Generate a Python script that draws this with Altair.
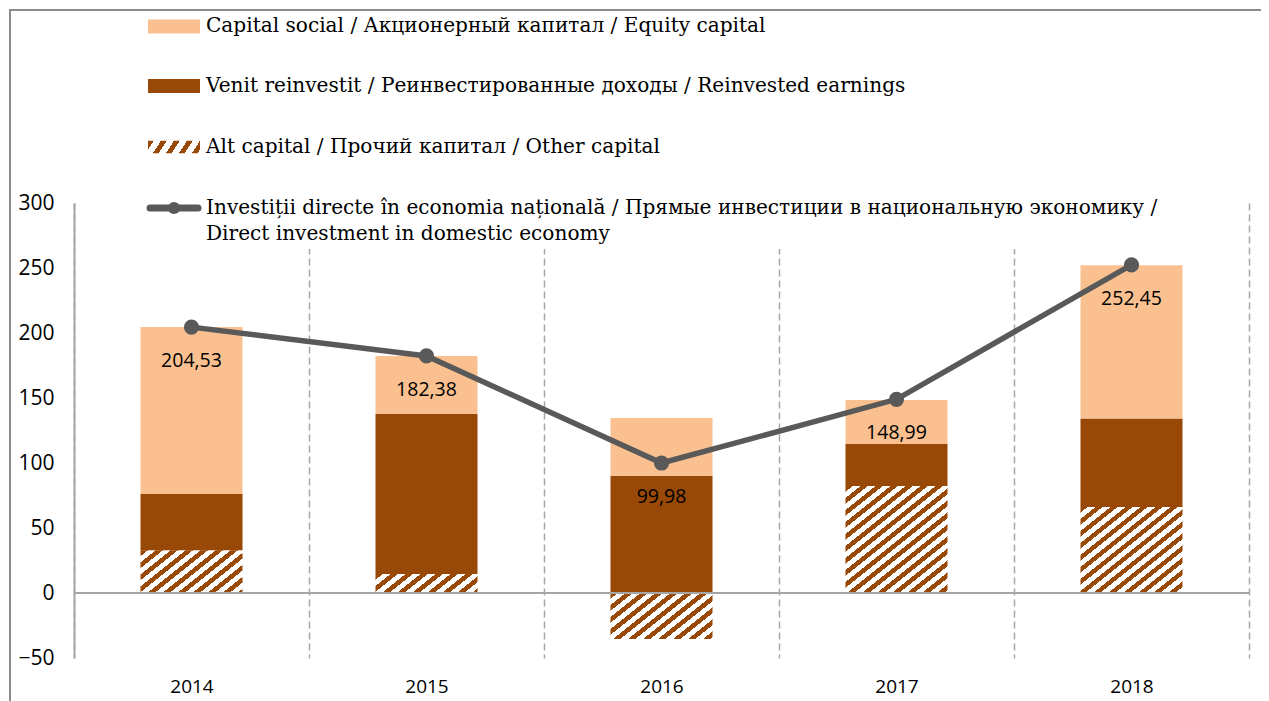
import math
import altair as alt

# ---------------- data ----------------
years = ["2014", "2015", "2016", "2017", "2018"]
equity = [128.4, 44.5, 44.4, 33.9, 117.9]        # Capital social / Equity capital
reinvested = [43.4, 123.3, 90.2, 32.3, 68.1]     # Venit reinvestit / Reinvested earnings
other = [32.8, 14.6, -35.4, 82.3, 66.2]          # Alt capital / Other capital
total = [204.53, 182.38, 99.98, 148.99, 252.45]  # Direct investment in domestic economy

legend_labels = [
    "Capital social / Акционерный капитал / Equity capital",
    "Venit reinvestit / Реинвестированные доходы / Reinvested earnings",
    "Alt capital / Прочий капитал / Other capital",
    "Investiții directe în economia națională / Прямые инвестиции в национальную экономику /",
    "Direct investment in domestic economy",
]
y_ticks = [-50, 0, 50, 100, 150, 200, 250, 300]

# ---------------- style ----------------
C_EQ = "#FAC090"
C_RE = "#984807"
C_LINE = "#595959"
C_GRID = "#A6A6A6"
W, H = 1175, 455
Y_DOM = [-50, 300]
PX = H / (Y_DOM[1] - Y_DOM[0])
BAR_W = 102
SANS = "Open Sans"
SERIF = "DejaVu Serif"


def hatch(w, h, ph, pv, frac=0.48, col=C_RE, bg="#FFFFFF"):
    a_ = w / ph
    b_ = h / pv
    s = a_ + b_
    k = s / (a_ * a_ + b_ * b_)
    stops = []
    i = 0
    while i / s < 1:
        o1 = i / s
        o2 = min((i + frac) / s, 1)
        o3 = min((i + 1) / s, 1)
        stops += [
            {"offset": o1, "color": col},
            {"offset": o2, "color": col},
            {"offset": o2, "color": bg},
            {"offset": o3, "color": bg},
        ]
        i += 1
    return {"gradient": "linear", "x1": 0, "y1": 0, "x2": k * a_, "y2": k * b_, "stops": stops}


bar_records = []
for i, yr in enumerate(years):
    bar_records.append({"year": yr, "series": "other", "ord": 0, "value": other[i],
                        "fillv": hatch(BAR_W, abs(other[i]) * PX, 15, 12)})
    bar_records.append({"year": yr, "series": "reinvested", "ord": 1, "value": reinvested[i], "fillv": C_RE})
    bar_records.append({"year": yr, "series": "equity", "ord": 2, "value": equity[i], "fillv": C_EQ})

line_records = [{"year": yr, "total": t, "label": f"{t:.2f}".replace(".", ",")} for yr, t in zip(years, total)]

x_enc = alt.X("year:N", sort=years, scale=alt.Scale(paddingInner=0, paddingOuter=0),
              axis=alt.Axis(title=None, labelAngle=0, domain=False, ticks=False, grid=True,
                            gridDash=[7, 4], gridColor=C_GRID, gridWidth=1.5, tickBand="extent",
                            labelFont=SANS, labelFontSize=19, labelColor="#000000", labelPadding=19))
y_enc = alt.Y("value:Q", stack="zero", scale=alt.Scale(domain=Y_DOM, nice=False, zero=False),
              axis=alt.Axis(title=None, values=y_ticks, domainColor=C_GRID, domainWidth=2, ticks=False,
                            grid=False, labelFont=SANS, labelFontSize=21, labelColor="#000000",
                            labelPadding=20))

dummy = alt.Data(values=[{"k": 1}])

frame_top = alt.Chart(dummy).mark_rule(color="#8C8C8C", strokeWidth=2).encode(
    x=alt.value(-65), x2=alt.value(1300), y=alt.value(-193))
frame_left = alt.Chart(dummy).mark_rule(color="#8C8C8C", strokeWidth=2).encode(
    x=alt.value(-64), y=alt.value(-194), y2=alt.value(560))

legend_bg = alt.Chart(dummy).mark_rect(fill="#FFFFFF").encode(
    x=alt.value(56), x2=alt.value(1116), y=alt.value(-190), y2=alt.value(46))

bars = alt.Chart(alt.Data(values=bar_records)).mark_bar(width=BAR_W).encode(
    x=x_enc, y=y_enc,
    fill=alt.Fill("fillv:N", scale=None),
    order=alt.Order("ord:Q"))

zero = alt.Chart(alt.Data(values=[{"z": 0}])).mark_rule(color=C_GRID, strokeWidth=2).encode(
    y=alt.Y("z:Q"))

line = alt.Chart(alt.Data(values=line_records)).mark_line(color=C_LINE, strokeWidth=5.5).encode(
    x=alt.X("year:N", sort=years), y=alt.Y("total:Q"))
pts = alt.Chart(alt.Data(values=line_records)).mark_circle(color=C_LINE, size=230, opacity=1).encode(
    x=alt.X("year:N", sort=years), y=alt.Y("total:Q"))
labels = alt.Chart(alt.Data(values=line_records)).mark_text(
    dy=34, font=SANS, fontSize=19.5, color="#000000").encode(
    x=alt.X("year:N", sort=years), y=alt.Y("total:Q"), text="label:N")

# ---------------- legend ----------------
leg = []
sw = [(C_EQ, -183.5, -169.5), (C_RE, -124, -110), (hatch(52, 12.6, 13, 20, frac=0.45), -62.3, -49.7)]
for fillv, ya, yb in sw:
    leg.append(alt.Chart(dummy).mark_rect(fill=fillv).encode(
        x=alt.value(74), x2=alt.value(126), y=alt.value(ya), y2=alt.value(yb)))
leg.append(alt.Chart(dummy).mark_rule(color=C_LINE, strokeWidth=7, strokeCap="round").encode(
    x=alt.value(76), x2=alt.value(124), y=alt.value(5)))
leg.append(alt.Chart(dummy).mark_circle(color=C_LINE, size=150, opacity=1).encode(
    x=alt.value(100), y=alt.value(5)))
for lab, yy in zip(legend_labels, [-177, -117, -56, 5, 31]):
    leg.append(alt.Chart(alt.Data(values=[{"t": lab}])).mark_text(
        align="left", baseline="middle", font=SERIF, fontSize=20.1, color="#000000").encode(
        x=alt.value(132), y=alt.value(yy), text="t:N"))

chart = alt.layer(frame_top, frame_left, legend_bg, bars, zero, line, pts, labels, *leg).properties(
    width=W, height=H,
    padding={"left": 66, "top": 195, "right": 12, "bottom": 43},
    autosize=alt.AutoSizeParams(type="none"),
).configure_view(stroke=None)

chart.save("out.html", embed_options={"renderer": "svg", "actions": False})
